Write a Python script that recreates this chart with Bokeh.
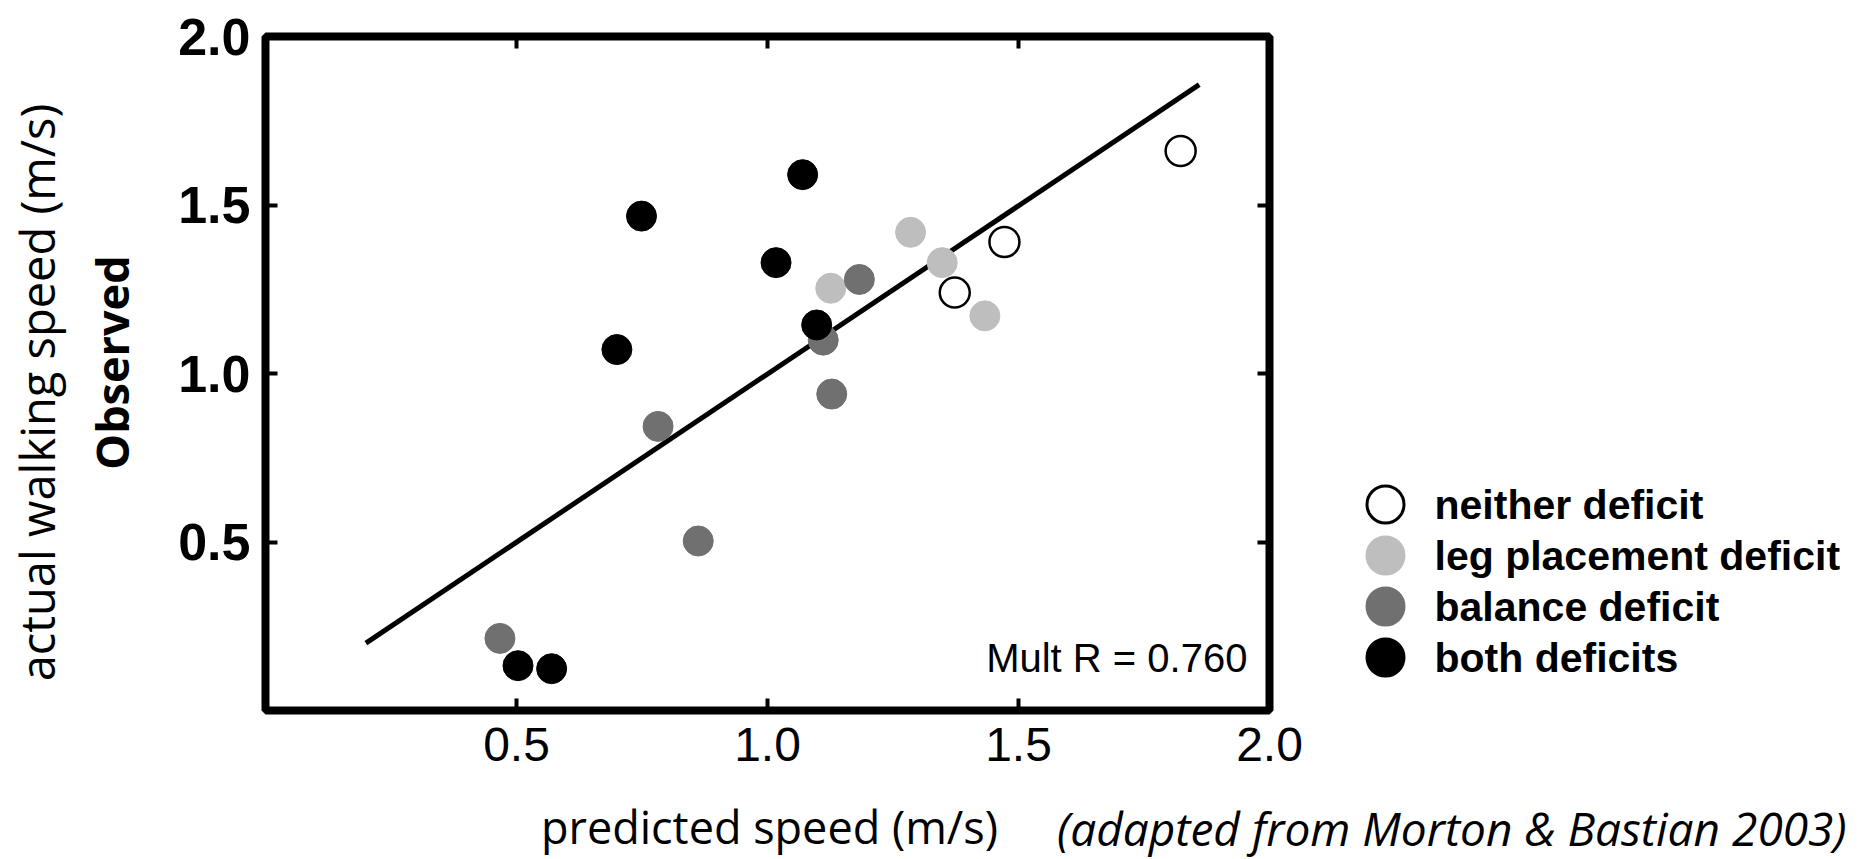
from math import pi
from bokeh.plotting import figure
from bokeh.models import (LinearAxis, FixedTicker, Label, Range1d, PrintfTickFormatter,
                          GridBox, ColumnDataSource)
from bokeh.core.properties import value
from bokeh.embed import file_html
from bokeh.resources import INLINE

# ---------------- data ----------------
groups = ["neither deficit", "leg placement deficit", "balance deficit", "both deficits"]
neither_x = [1.823, 1.472, 1.373]
neither_y = [1.660, 1.390, 1.240]
leg_x = [1.285, 1.348, 1.126, 1.433]
leg_y = [1.419, 1.329, 1.253, 1.171]
balance_x = [1.183, 1.111, 1.128, 0.782, 0.862, 0.467]
balance_y = [1.279, 1.099, 0.939, 0.843, 0.503, 0.214]
both_x = [1.070, 0.749, 1.017, 1.098, 0.700, 0.503, 0.570]
both_y = [1.590, 1.467, 1.329, 1.144, 1.071, 0.133, 0.124]
fit_x = [0.20, 1.86]
fit_y = [0.20, 1.857]
x_ticks = [0.5, 1.0, 1.5, 2.0]
y_ticks = [0.5, 1.0, 1.5, 2.0]
mult_r_text = "Mult R = 0.760"
x_title = "predicted speed (m/s)"
y_title_1 = "actual walking speed (m/s)"
y_title_2 = "Observed"
source_note = "(adapted from Morton & Bastian 2003)"

# ---------------- styles / layout ----------------
LIGHT = "#bebebe"
DARK = "#707070"
group_fill = ["white", LIGHT, DARK, "black"]
group_line = ["black", LIGHT, DARK, "black"]
HUMANIST = "Open Sans"
W, H = 1859, 859
FL, FR, FT, FB = 265, 1269, 36, 710      # plot box edges in pixels


def px2x(px):
    return (px - FL) / (FR - FL) * 2.0


def py2y(py):
    return (FB - py) / (FB - FT) * 2.0


# ---------------- main plot ----------------
p = figure(width=W, height=H, x_range=Range1d(0, 2), y_range=Range1d(0, 2),
           output_backend="svg", toolbar_location=None,
           min_border_left=FL, min_border_right=W - FR, min_border_top=FT, min_border_bottom=H - FB)
p.frame_align = False
p.grid.visible = False
p.outline_line_color = "black"
p.outline_line_width = 8
p.background_fill_color = "white"
p.border_fill_color = "white"

TICK_IN = 12
xa = p.below[0]
ya = p.left[0]
for ax in (xa, ya):
    ax.formatter = PrintfTickFormatter(format="%.1f")
    ax.axis_line_color = None
    ax.major_tick_in = TICK_IN
    ax.major_tick_out = 0
    ax.major_tick_line_width = 4
    ax.major_tick_line_color = "black"
    ax.minor_tick_line_color = None
    ax.major_label_text_color = "black"
    ax.major_label_text_font = "Liberation Sans"
xa.ticker = FixedTicker(ticks=x_ticks)
ya.ticker = FixedTicker(ticks=y_ticks)
xa.major_label_text_font_size = "48px"
xa.major_label_standoff = 17
ya.major_label_text_font_size = "52px"
ya.major_label_text_font_style = "bold"
ya.major_label_standoff = 15

for side, ticks in (("above", x_ticks), ("right", y_ticks)):
    a = LinearAxis(ticker=FixedTicker(ticks=ticks), axis_line_color=None,
                   major_tick_in=TICK_IN, major_tick_out=0, major_tick_line_width=4,
                   major_tick_line_color="black", minor_tick_line_color=None,
                   major_label_text_font_size="1px", major_label_text_color=None,
                   major_label_standoff=0)
    p.add_layout(a, side)

p.line(fit_x, fit_y, line_color="black", line_width=5)

SIZE = 30
p.scatter(neither_x, neither_y, marker="circle", size=SIZE,
          fill_color=group_fill[0], line_color=group_line[0], line_width=2.5)
p.scatter(leg_x, leg_y, marker="circle", size=SIZE, fill_color=group_fill[1], line_color=group_line[1])
p.scatter(balance_x, balance_y, marker="circle", size=SIZE, fill_color=group_fill[2], line_color=group_line[2])
p.scatter(both_x, both_y, marker="circle", size=SIZE, fill_color=group_fill[3], line_color=group_line[3])

p.add_layout(Label(x=1.956, y=0.157, text=mult_r_text, text_align="right",
                   text_baseline="alphabetic", text_font="Liberation Sans",
                   text_font_size="40px", text_color="black"))

# ---------------- overlay for titles, legend and source note ----------------
o = figure(width=W, height=H, x_range=Range1d(px2x(0), px2x(W)), y_range=Range1d(py2y(H), py2y(0)),
           x_axis_type=None, y_axis_type=None, output_backend="svg", toolbar_location=None,
           min_border=0, outline_line_color=None,
           background_fill_color=None, border_fill_color=None)
o.frame_align = False

# axis titles
o.add_layout(Label(x=px2x(769), y=py2y(826), text=x_title, text_align="center",
                   text_baseline="alphabetic", text_font=HUMANIST, text_font_size="45px",
                   text_color="black"))
o.add_layout(Label(x=px2x(36), y=py2y(392), text=y_title_1, angle=pi / 2, text_align="center",
                   text_baseline="alphabetic", text_font=HUMANIST, text_font_size="47px",
                   text_color="black"))
o.add_layout(Label(x=px2x(111), y=py2y(362), text=y_title_2, angle=pi / 2, text_align="center",
                   text_baseline="alphabetic", text_font=HUMANIST, text_font_style="bold",
                   text_font_size="45px", text_color="black"))

# source note
o.add_layout(Label(x=px2x(1846), y=py2y(827), text=source_note, text_align="right",
                   text_baseline="alphabetic", text_font=HUMANIST, text_font_style="italic",
                   text_font_size="46px", text_color="black"))

# legend
rows = [504 + 51 * i for i in range(len(groups))]
leg_src = ColumnDataSource(dict(
    mx=[px2x(1385)] * len(groups),
    tx=[px2x(1434)] * len(groups),
    y=[py2y(r) for r in rows],
    label=groups,
    fill=group_fill,
    line=group_line,
))
o.scatter("mx", "y", source=leg_src, marker="circle", size=37,
          fill_color="fill", line_color="line", line_width=3)
o.text("tx", "y", text="label", source=leg_src, text_align="left", text_baseline="middle",
       text_font=value("Liberation Sans"), text_font_style="bold",
       text_font_size=value("41px"), text_color="black")

layout = GridBox(children=[(p, 0, 0), (o, 0, 0)])

open("out.html", "w").write(file_html(layout, INLINE))
